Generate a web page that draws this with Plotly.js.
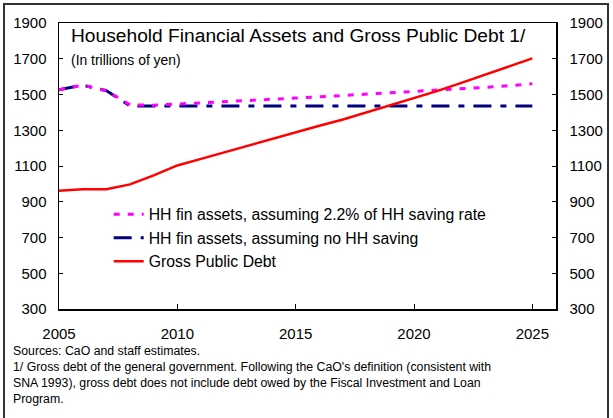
<!DOCTYPE html>
<html><head><meta charset="utf-8">
<script src="https://cdn.plot.ly/plotly-3.0.1.min.js"></script>
<style>
html,body{margin:0;padding:0;background:#fff;}
#wrap{position:relative;width:613px;height:418px;overflow:hidden;}
#chart{position:absolute;left:0;top:0;width:613px;height:418px;}
#frame{position:absolute;left:3px;top:3px;width:602px;height:430px;border:2px solid #333;pointer-events:none;}
</style></head>
<body><div id="wrap"><div id="chart"></div><div id="frame"></div></div>
<script>
const years = [2005,2006,2007,2008,2009,2010,2011,2012,2013,2014,2015,2016,2017,2018,2019,2020,2021,2022,2023,2024,2025];
const hhSaving = [1527,1552,1522,1442,1440,1446,1452,1459,1466,1473,1480,1487,1494,1501,1508,1515,1523,1531,1540,1549,1560];
const hhNoSaving = [1527,1552,1522,1436,1435,1435,1435,1435,1435,1435,1435,1435,1435,1435,1435,1435,1435,1435,1435,1435,1435];
const grossDebt = [962,970,970,997,1048,1103,1140,1177,1215,1254,1290,1325,1360,1400,1440,1480,1520,1565,1610,1655,1702];
const names = ["HH fin assets, assuming 2.2% of HH saving rate","HH fin assets, assuming no HH saving","Gross Public Debt"];
const yTicks = [300,500,700,900,1100,1300,1500,1700,1900];
const xTicks = [2005,2010,2015,2020,2025];

const F = "Arial";
const traces = [
 {x:years,y:hhNoSaving,name:names[1],mode:'lines',legendrank:2,line:{color:'#000080',width:3,dash:'18px,9px,6px,9px'}},
 {x:years,y:hhSaving,name:names[0],mode:'lines',legendrank:1,line:{color:'#ff00ff',width:3,dash:'6px,8px'}},
 {x:years,y:grossDebt,name:names[2],mode:'lines',legendrank:3,line:{color:'#ff0000',width:2.5}},
 {x:years,y:grossDebt,yaxis:'y2',mode:'lines',showlegend:false,hoverinfo:'skip',line:{color:'rgba(0,0,0,0)',width:0}}
];
const axisCommon = {range:[300,1900],tickvals:yTicks,ticks:'inside',ticklen:4,tickwidth:1,tickcolor:'#000',showgrid:false,zeroline:false,showline:true,linecolor:'#000',linewidth:1.5,tickfont:{family:F,size:15,color:'#000'}};
const layout = {
 width:613,height:418,margin:{l:59,r:57,t:23,b:109},
 paper_bgcolor:'#fff',plot_bgcolor:'#fff',showlegend:true,
 font:{family:F,color:'#000'},
 xaxis:{range:[2005,2026],tickvals:xTicks,ticks:'inside',ticklen:5,tickcolor:'#000',showgrid:false,zeroline:false,showline:true,mirror:true,linecolor:'#000',linewidth:1.5,ticklabelstandoff:10,tickfont:{family:F,size:15,color:'#000'}},
 yaxis:Object.assign({},axisCommon,{ticklabelstandoff:8}),
 yaxis2:Object.assign({},axisCommon,{overlaying:'y',side:'right',ticklabelstandoff:9}),
 legend:{x:0.1,y:0.39,xanchor:'left',yanchor:'top',bgcolor:'rgba(0,0,0,0)',font:{family:F,size:15.8,color:'#000'},tracegroupgap:0,itemwidth:30},
 annotations:[
  {xref:'paper',yref:'paper',x:0.02,y:1.0,xanchor:'left',yanchor:'top',showarrow:false,align:'left',text:'Household Financial Assets and Gross Public Debt 1/',font:{family:F,size:19.2,color:'#000'}},
  {xref:'paper',yref:'paper',x:0.02,y:0.905,xanchor:'left',yanchor:'top',showarrow:false,align:'left',text:'(In trillions of yen)',font:{family:F,size:13.9,color:'#000'}},
  {xref:'paper',yref:'paper',x:-0.097,y:-0.117,xanchor:'left',yanchor:'top',showarrow:false,align:'left',
   text:"Sources: CaO and staff estimates.<br>1/ Gross debt of the general government. Following the CaO's definition (consistent with<br>SNA 1993), gross debt does not include debt owed by the Fiscal Investment and Loan<br>Program.",
   font:{family:F,size:12.3,color:'#000'}}
 ]
};
Plotly.newPlot('chart',traces,layout,{staticPlot:true,displayModeBar:false});
</script></body></html>
